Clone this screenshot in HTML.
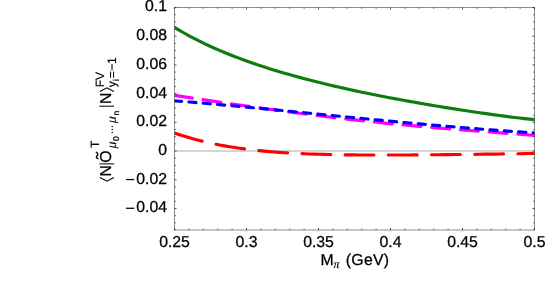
<!DOCTYPE html>
<html><head><meta charset="utf-8"><title>plot</title>
<style>
html,body{margin:0;padding:0;background:#fff;}
svg{will-change:transform;}
body{width:545px;height:291px;overflow:hidden;}
svg{display:block;font-family:"Liberation Sans",sans-serif;text-rendering:geometricPrecision;}
</style></head><body>
<svg width="545" height="291" viewBox="0 0 545 291">
<rect x="0" y="0" width="545" height="291" fill="#ffffff"/>
<defs><clipPath id="cp"><rect x="174.5" y="7.5" width="360.0" height="222.5"/></clipPath></defs>

<line x1="174.5" y1="151.05" x2="534.5" y2="151.05" stroke="#c6c6c6" stroke-width="1.5"/>
<g clip-path="url(#cp)" fill="none" stroke-linecap="round" stroke-linejoin="round">
<path d="M174.5,27.36 L179.5,30.37 L184.5,33.25 L189.5,36.01 L194.5,38.66 L199.5,41.19 L204.5,43.63 L209.5,45.97 L214.5,48.23 L219.5,50.41 L224.5,52.50 L229.5,54.53 L234.5,56.49 L239.5,58.39 L244.5,60.22 L249.5,62.00 L254.5,63.73 L259.5,65.41 L264.5,67.04 L269.5,68.63 L274.5,70.18 L279.5,71.69 L284.5,73.16 L289.5,74.59 L294.5,75.99 L299.5,77.36 L304.5,78.69 L309.5,80.00 L314.5,81.28 L319.5,82.53 L324.5,83.75 L329.5,84.95 L334.5,86.13 L339.5,87.28 L344.5,88.41 L349.5,89.52 L354.5,90.61 L359.5,91.67 L364.5,92.72 L369.5,93.75 L374.5,94.76 L379.5,95.75 L384.5,96.73 L389.5,97.69 L394.5,98.63 L399.5,99.56 L404.5,100.48 L409.5,101.38 L414.5,102.26 L419.5,103.14 L424.5,104.00 L429.5,104.85 L434.5,105.69 L439.5,106.51 L444.5,107.33 L449.5,108.13 L454.5,108.92 L459.5,109.70 L464.5,110.47 L469.5,111.23 L474.5,111.98 L479.5,112.71 L484.5,113.43 L489.5,114.14 L494.5,114.84 L499.5,115.51 L504.5,116.18 L509.5,116.82 L514.5,117.44 L519.5,118.04 L524.5,118.62 L529.5,119.17 L534.5,119.69" stroke="#0f7c0f" stroke-width="3.15"/>
<path d="M174.5,95.42 L179.5,96.16 L184.5,96.90 L189.5,97.64 L194.5,98.38 L199.5,99.12 L204.5,99.86 L209.5,100.60 L214.5,101.34 L219.5,102.08 L224.5,102.81 L229.5,103.54 L234.5,104.27 L239.5,105.00 L244.5,105.72 L249.5,106.43 L254.5,107.14 L259.5,107.85 L264.5,108.55 L269.5,109.24 L274.5,109.93 L279.5,110.61 L284.5,111.28 L289.5,111.95 L294.5,112.61 L299.5,113.26 L304.5,113.90 L309.5,114.54 L314.5,115.16 L319.5,115.78 L324.5,116.40 L329.5,117.00 L334.5,117.59 L339.5,118.18 L344.5,118.76 L349.5,119.32 L354.5,119.88 L359.5,120.43 L364.5,120.98 L369.5,121.51 L374.5,122.03 L379.5,122.55 L384.5,123.06 L389.5,123.56 L394.5,124.05 L399.5,124.53 L404.5,125.00 L409.5,125.47 L414.5,125.93 L419.5,126.38 L424.5,126.82 L429.5,127.25 L434.5,127.68 L439.5,128.11 L444.5,128.52 L449.5,128.93 L454.5,129.34 L459.5,129.73 L464.5,130.13 L469.5,130.52 L474.5,130.90 L479.5,131.28 L484.5,131.66 L489.5,132.03 L494.5,132.40 L499.5,132.77 L504.5,133.14 L509.5,133.50 L514.5,133.87 L519.5,134.23 L524.5,134.60 L529.5,134.96 L534.5,135.33" stroke="#ff00ff" stroke-width="3.15" stroke-dasharray="18 10.8"/>
<path d="M174.5,100.82 L179.5,101.21 L184.5,101.62 L189.5,102.02 L194.5,102.44 L199.5,102.86 L204.5,103.29 L209.5,103.73 L214.5,104.17 L219.5,104.61 L224.5,105.07 L229.5,105.52 L234.5,105.98 L239.5,106.45 L244.5,106.92 L249.5,107.39 L254.5,107.87 L259.5,108.35 L264.5,108.83 L269.5,109.32 L274.5,109.81 L279.5,110.30 L284.5,110.79 L289.5,111.28 L294.5,111.78 L299.5,112.28 L304.5,112.77 L309.5,113.27 L314.5,113.77 L319.5,114.27 L324.5,114.76 L329.5,115.26 L334.5,115.76 L339.5,116.25 L344.5,116.75 L349.5,117.24 L354.5,117.73 L359.5,118.22 L364.5,118.71 L369.5,119.20 L374.5,119.68 L379.5,120.16 L384.5,120.64 L389.5,121.12 L394.5,121.59 L399.5,122.06 L404.5,122.52 L409.5,122.99 L414.5,123.44 L419.5,123.90 L424.5,124.35 L429.5,124.79 L434.5,125.23 L439.5,125.67 L444.5,126.10 L449.5,126.53 L454.5,126.95 L459.5,127.36 L464.5,127.77 L469.5,128.18 L474.5,128.58 L479.5,128.97 L484.5,129.36 L489.5,129.74 L494.5,130.11 L499.5,130.48 L504.5,130.84 L509.5,131.20 L514.5,131.55 L519.5,131.89 L524.5,132.22 L529.5,132.55 L534.5,132.87" stroke="#0000ff" stroke-width="3.15" stroke-dasharray="7.2 7.2"/>
<path d="M174.5,132.94 L179.5,134.66 L184.5,136.27 L189.5,137.78 L194.5,139.20 L199.5,140.51 L204.5,141.74 L209.5,142.89 L214.5,143.95 L219.5,144.95 L224.5,145.87 L229.5,146.72 L234.5,147.51 L239.5,148.25 L244.5,148.92 L249.5,149.55 L254.5,150.12 L259.5,150.65 L264.5,151.14 L269.5,151.58 L274.5,151.99 L279.5,152.36 L284.5,152.70 L289.5,153.00 L294.5,153.28 L299.5,153.53 L304.5,153.75 L309.5,153.95 L314.5,154.13 L319.5,154.29 L324.5,154.43 L329.5,154.55 L334.5,154.66 L339.5,154.75 L344.5,154.82 L349.5,154.89 L354.5,154.94 L359.5,154.98 L364.5,155.01 L369.5,155.03 L374.5,155.04 L379.5,155.05 L384.5,155.05 L389.5,155.04 L394.5,155.02 L399.5,155.00 L404.5,154.98 L409.5,154.95 L414.5,154.92 L419.5,154.88 L424.5,154.84 L429.5,154.80 L434.5,154.75 L439.5,154.71 L444.5,154.66 L449.5,154.60 L454.5,154.55 L459.5,154.49 L464.5,154.44 L469.5,154.38 L474.5,154.32 L479.5,154.26 L484.5,154.19 L489.5,154.13 L494.5,154.06 L499.5,153.99 L504.5,153.92 L509.5,153.85 L514.5,153.78 L519.5,153.70 L524.5,153.62 L529.5,153.54 L534.5,153.45" stroke="#ff0000" stroke-width="3.15" stroke-dasharray="28.8 14.4"/>
</g>
<rect x="174.5" y="7.5" width="360.0" height="222.5" fill="none" stroke="#444" stroke-width="0.6"/>
<path d="M174.50,230.0v-2.0M174.50,7.5v2.0M188.90,230.0v-1.25M188.90,7.5v1.25M203.30,230.0v-1.25M203.30,7.5v1.25M217.70,230.0v-1.25M217.70,7.5v1.25M232.10,230.0v-1.25M232.10,7.5v1.25M246.50,230.0v-2.0M246.50,7.5v2.0M260.90,230.0v-1.25M260.90,7.5v1.25M275.30,230.0v-1.25M275.30,7.5v1.25M289.70,230.0v-1.25M289.70,7.5v1.25M304.10,230.0v-1.25M304.10,7.5v1.25M318.50,230.0v-2.0M318.50,7.5v2.0M332.90,230.0v-1.25M332.90,7.5v1.25M347.30,230.0v-1.25M347.30,7.5v1.25M361.70,230.0v-1.25M361.70,7.5v1.25M376.10,230.0v-1.25M376.10,7.5v1.25M390.50,230.0v-2.0M390.50,7.5v2.0M404.90,230.0v-1.25M404.90,7.5v1.25M419.30,230.0v-1.25M419.30,7.5v1.25M433.70,230.0v-1.25M433.70,7.5v1.25M448.10,230.0v-1.25M448.10,7.5v1.25M462.50,230.0v-2.0M462.50,7.5v2.0M476.90,230.0v-1.25M476.90,7.5v1.25M491.30,230.0v-1.25M491.30,7.5v1.25M505.70,230.0v-1.25M505.70,7.5v1.25M520.10,230.0v-1.25M520.10,7.5v1.25M534.50,230.0v-2.0M534.50,7.5v2.0M174.5,230.00h1.25M534.5,230.00h-1.25M174.5,222.82h1.25M534.5,222.82h-1.25M174.5,215.65h1.25M534.5,215.65h-1.25M174.5,208.47h2.0M534.5,208.47h-2.0M174.5,201.29h1.25M534.5,201.29h-1.25M174.5,194.11h1.25M534.5,194.11h-1.25M174.5,186.94h1.25M534.5,186.94h-1.25M174.5,179.76h2.0M534.5,179.76h-2.0M174.5,172.58h1.25M534.5,172.58h-1.25M174.5,165.40h1.25M534.5,165.40h-1.25M174.5,158.23h1.25M534.5,158.23h-1.25M174.5,151.05h2.0M534.5,151.05h-2.0M174.5,143.87h1.25M534.5,143.87h-1.25M174.5,136.69h1.25M534.5,136.69h-1.25M174.5,129.52h1.25M534.5,129.52h-1.25M174.5,122.34h2.0M534.5,122.34h-2.0M174.5,115.16h1.25M534.5,115.16h-1.25M174.5,107.98h1.25M534.5,107.98h-1.25M174.5,100.81h1.25M534.5,100.81h-1.25M174.5,93.63h2.0M534.5,93.63h-2.0M174.5,86.45h1.25M534.5,86.45h-1.25M174.5,79.27h1.25M534.5,79.27h-1.25M174.5,72.10h1.25M534.5,72.10h-1.25M174.5,64.92h2.0M534.5,64.92h-2.0M174.5,57.74h1.25M534.5,57.74h-1.25M174.5,50.56h1.25M534.5,50.56h-1.25M174.5,43.39h1.25M534.5,43.39h-1.25M174.5,36.21h2.0M534.5,36.21h-2.0M174.5,29.03h1.25M534.5,29.03h-1.25M174.5,21.85h1.25M534.5,21.85h-1.25M174.5,14.68h1.25M534.5,14.68h-1.25M174.5,7.50h2.0M534.5,7.50h-2.0" stroke="#333" stroke-width="0.85" fill="none"/>
<g font-size="15.8" fill="#000" stroke="#000" stroke-width="0.28">
<text x="174.50" y="247.4" text-anchor="middle">0.25</text>
<text x="246.50" y="247.4" text-anchor="middle">0.3</text>
<text x="318.50" y="247.4" text-anchor="middle">0.35</text>
<text x="390.50" y="247.4" text-anchor="middle">0.4</text>
<text x="462.50" y="247.4" text-anchor="middle">0.45</text>
<text x="534.50" y="247.4" text-anchor="middle">0.5</text>
<text x="167.0" y="11.40" text-anchor="end">0.1</text>
<text x="167.0" y="40.11" text-anchor="end">0.08</text>
<text x="167.0" y="68.82" text-anchor="end">0.06</text>
<text x="167.0" y="97.53" text-anchor="end">0.04</text>
<text x="167.0" y="126.24" text-anchor="end">0.02</text>
<text x="167.0" y="154.95" text-anchor="end">0</text>
<text x="167.0" y="183.66" text-anchor="end">0.02</text>
<line x1="126.0" y1="179.56" x2="134.2" y2="179.56" stroke-width="1.25"/>
<text x="167.0" y="212.37" text-anchor="end">0.04</text>
<line x1="126.0" y1="208.27" x2="134.2" y2="208.27" stroke-width="1.25"/>
</g>
<g fill="#000" stroke="#000" stroke-width="0.28">
<text font-size="15.8" x="320.6" y="265.2">M</text>
<text font-size="12" x="333.6" y="268.1" font-family="Liberation Serif" font-style="italic" stroke-width="0.2">π</text>
<text font-size="15.8" x="345.8" y="265.2" letter-spacing="0.3">(GeV)</text>
</g>
<g transform="translate(111.1,182.5) rotate(-90)" fill="#000" stroke="#000" stroke-width="0.28" text-anchor="middle">
<path d="M5.0,-11.2 L1.3,-4.2 L5.0,2.8" fill="none" stroke-width="1.05" stroke-linejoin="miter"/>
<text font-size="15.8" x="11.65" y="0">N</text>
<line x1="18.6" y1="-11.8" x2="18.6" y2="3.0" stroke-width="1.0"/>
<text font-size="15.8" x="25.9" y="0">O</text>
<path d="M23.8,-13.15 C24.7,-14.95 25.9,-14.95 27.0,-13.95 C28.1,-12.95 29.3,-12.95 30.2,-14.75" fill="none" stroke-width="1.45" stroke-linecap="round"/>
<text font-size="12" x="38.15" y="-12.4" stroke-width="0.2">T</text>
<text font-size="12" x="37.6" y="5.0" font-style="italic" stroke-width="0.1">μ</text>
<text font-size="8.5" x="43.8" y="7.8" stroke-width="0.2">0</text>
<circle cx="49.9" cy="1.1" r="0.75" stroke="none"/><circle cx="52.9" cy="1.1" r="0.75" stroke="none"/><circle cx="55.9" cy="1.1" r="0.75" stroke="none"/>
<text font-size="12" x="62.9" y="5.0" font-style="italic" stroke-width="0.1">μ</text>
<text font-size="8.5" x="69.35" y="7.8" stroke-width="0.2">n</text>
<line x1="76.3" y1="-11.8" x2="76.3" y2="3.0" stroke-width="1.0"/>
<text font-size="15.8" x="84.3" y="0">N</text>
<path d="M91.0,-11.2 L94.7,-4.2 L91.0,2.8" fill="none" stroke-width="1.05" stroke-linejoin="miter"/>
<text font-size="12" x="102.95" y="-7.2" stroke-width="0.2">FV</text>
<text font-size="12" x="98.3" y="5.0" stroke-width="0.2">y</text>
<text font-size="8.5" x="102.5" y="7.8" stroke-width="0.2">i</text>
<text font-size="12" x="107.75" y="5.0" stroke-width="0.2">=</text>
<text font-size="12" x="115.35" y="5.0" stroke-width="0.2">−</text>
<text font-size="12" x="121.8" y="5.0" stroke-width="0.2">1</text>
</g>
</svg></body></html>
